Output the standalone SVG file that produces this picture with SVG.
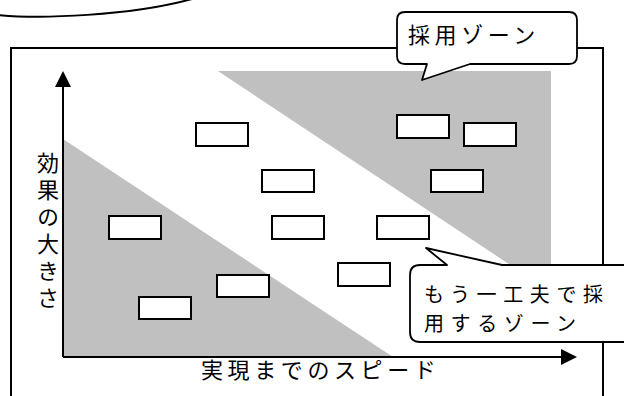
<svg xmlns="http://www.w3.org/2000/svg" width="624" height="396" viewBox="0 0 624 396">
<style>
.ln{fill:none;stroke:#000;stroke-width:2}
.zone{fill:#c0c0c0;stroke:none}
.box{fill:#fff;stroke:#000;stroke-width:2}
.call{fill:#fff;stroke:#000;stroke-width:1.8;stroke-linejoin:round}
.t{font-family:"Noto Sans CJK JP","Noto Sans CJK SC",sans-serif;font-size:22px;fill:#000}
.h{letter-spacing:4.6px}
.s{font-size:20px;letter-spacing:6.6px}
.v{writing-mode:vertical-rl;letter-spacing:5px}
</style>
<rect width="624" height="396" fill="#fff"/>
<path class="ln" d="M-2,15 C40,19 130,16 192,-1"/>
<rect id="frame" class="ln" x="11" y="48" width="592" height="362"/>
<g id="zones">
<polygon id="zone-adopt" class="zone" points="218,71 551,71 551,292"/>
<polygon id="zone-improve" class="zone" points="63,139 63,357 393,357"/>
</g>
<g id="connectors">
<line class="ln" x1="63" y1="357" x2="63" y2="85"/>
<polygon points="63,71 55,87 71,87" fill="#000"/>
<line class="ln" x1="63" y1="357" x2="563" y2="357"/>
<polygon points="577,357 561,349 561,365" fill="#000"/>
</g>
<g id="boxes">
<rect id="b1" class="box" x="196" y="123" width="52" height="23"/>
<rect id="b2" class="box" x="262" y="170" width="52" height="22"/>
<rect id="b3" class="box" x="109" y="216" width="52" height="23"/>
<rect id="b4" class="box" x="272" y="216" width="52" height="23"/>
<rect id="b5" class="box" x="377" y="216" width="52" height="23"/>
<rect id="b6" class="box" x="338" y="263" width="52" height="23"/>
<rect id="b7" class="box" x="217" y="275" width="52" height="22"/>
<rect id="b8" class="box" x="139" y="297" width="52" height="22"/>
<rect id="b9" class="box" x="397" y="115" width="52" height="23"/>
<rect id="b10" class="box" x="464" y="123" width="52" height="23"/>
<rect id="b11" class="box" x="431" y="170" width="52" height="22"/>
</g>
<g id="callout-adopt">
<path class="call" d="M405,12 H569 Q577,12 577,20 V56 Q577,64 569,64 H470 L422,80 L427,64 H405 Q397,64 397,56 V20 Q397,12 405,12 Z"/>
<text class="t h" x="408" y="43">採用ゾーン</text>
</g>
<g id="callout-improve">
<path class="call" d="M420,265 H447 L426,248 L502,265 H640 V342 H420 Q410,342 410,332 V275 Q410,265 420,265 Z"/>
<text class="t s"><tspan x="424" y="302">もう一工夫で採</tspan><tspan x="424" y="331">用するゾーン</tspan></text>
</g>
<g id="y-label">
<text class="t v" x="48" y="152">効果の大きさ</text>
</g>
<g id="x-label">
<text class="t h" x="201" y="378">実現までのスピード</text>
</g>
</svg>
